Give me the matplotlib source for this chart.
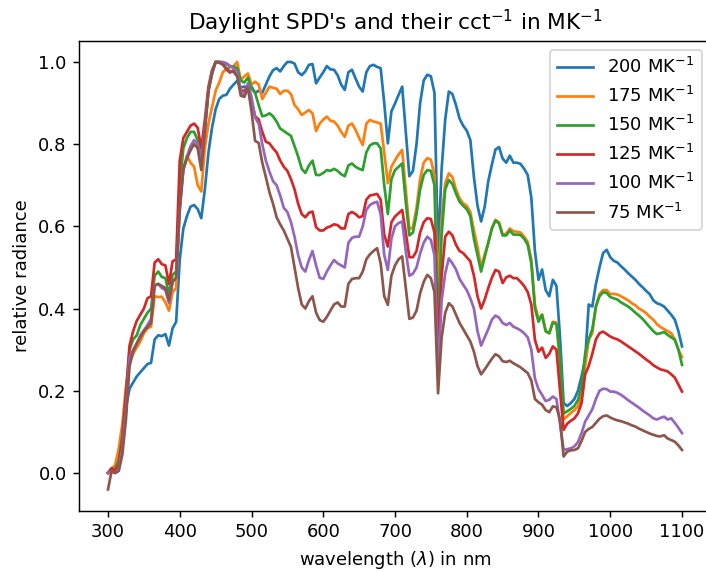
import matplotlib
matplotlib.use("Agg")
import matplotlib.pyplot as plt

# ------------------------------------------------------------
# Data (5 nm steps, 300..1100 nm)
# ------------------------------------------------------------
wavelengths = list(range(300, 1101, 5))

labels = ["200 MK$^{-1}$", "175 MK$^{-1}$", "150 MK$^{-1}$",
          "125 MK$^{-1}$", "100 MK$^{-1}$", "75 MK$^{-1}$"]

spd_200 = [
    0.00, 0.01, 0.005, 0.03, 0.09, 0.16, 0.205, 0.22, 0.235, 0.245,
    0.255, 0.265, 0.268, 0.325, 0.335, 0.333, 0.338, 0.31, 0.352, 0.368,
    0.52, 0.595, 0.625, 0.648, 0.652, 0.642, 0.62, 0.69, 0.78, 0.84,
    0.885, 0.91, 0.918, 0.92, 0.935, 0.945, 0.954, 0.938, 0.94, 0.94,
    0.94, 0.925, 0.93, 0.925, 0.945, 0.965, 0.98, 0.985, 0.977, 0.99,
    1.0, 1.0, 0.996, 0.975, 0.968, 0.977, 0.993, 0.995, 0.948, 0.962,
    0.975, 0.99, 0.982, 0.981, 0.968, 0.945, 0.932, 0.975, 0.981, 0.96,
    0.94, 0.928, 0.975, 0.99, 0.993, 0.988, 0.985, 0.90, 0.802, 0.88,
    0.899, 0.92, 0.94, 0.83, 0.722, 0.735, 0.80, 0.90, 0.955, 0.969,
    0.965, 0.925, 0.527, 0.74, 0.86, 0.928, 0.922, 0.895, 0.862, 0.845,
    0.833, 0.81, 0.72, 0.65, 0.612, 0.648, 0.71, 0.75, 0.787, 0.793,
    0.765, 0.755, 0.772, 0.755, 0.755, 0.752, 0.74, 0.725, 0.67, 0.54,
    0.47, 0.495, 0.445, 0.43, 0.47, 0.455, 0.33, 0.17, 0.163, 0.17,
    0.18, 0.2, 0.235, 0.275, 0.41, 0.405, 0.46, 0.50, 0.535, 0.543,
    0.525, 0.516, 0.512, 0.503, 0.495, 0.486, 0.478, 0.47, 0.46, 0.452,
    0.443, 0.435, 0.42, 0.413, 0.41, 0.405, 0.395, 0.385, 0.373, 0.345,
    0.308,
]

spd_175 = [
    0.0, 0.01, 0.02, 0.06, 0.12, 0.21, 0.27, 0.29, 0.305, 0.32,
    0.34, 0.352, 0.356, 0.43, 0.428, 0.429, 0.415, 0.395, 0.44, 0.45,
    0.66, 0.735, 0.772, 0.755, 0.745, 0.70, 0.685, 0.79, 0.85, 0.89,
    0.93, 0.95, 0.975, 0.983, 0.987, 0.99, 1.0, 0.956, 0.965, 0.972,
    0.945, 0.952, 0.945, 0.91, 0.925, 0.94, 0.937, 0.935, 0.922, 0.93,
    0.93, 0.922, 0.895, 0.885, 0.871, 0.877, 0.883, 0.875, 0.832, 0.85,
    0.86, 0.867, 0.857, 0.855, 0.845, 0.83, 0.818, 0.845, 0.85, 0.835,
    0.815, 0.798, 0.85, 0.859, 0.855, 0.853, 0.85, 0.78, 0.705, 0.745,
    0.761, 0.775, 0.786, 0.69, 0.593, 0.598, 0.645, 0.715, 0.755, 0.766,
    0.762, 0.725, 0.445, 0.62, 0.705, 0.729, 0.72, 0.69, 0.668, 0.656,
    0.65, 0.635, 0.59, 0.55, 0.50, 0.532, 0.56, 0.595, 0.616, 0.61,
    0.58, 0.582, 0.595, 0.588, 0.587, 0.585, 0.575, 0.562, 0.52, 0.41,
    0.375, 0.385, 0.345, 0.34, 0.368, 0.366, 0.27, 0.13, 0.138, 0.146,
    0.153, 0.162, 0.19, 0.26, 0.324, 0.34, 0.405, 0.435, 0.445, 0.445,
    0.435, 0.436, 0.434, 0.43, 0.425, 0.42, 0.413, 0.408, 0.40, 0.395,
    0.389, 0.38, 0.373, 0.362, 0.355, 0.35, 0.345, 0.34, 0.325, 0.30,
    0.282,
]

spd_150 = [
    0.0, 0.005, 0.01, 0.03, 0.09, 0.19, 0.30, 0.325, 0.335, 0.36,
    0.375, 0.39, 0.40, 0.48, 0.49, 0.477, 0.474, 0.435, 0.482, 0.49,
    0.70, 0.79, 0.815, 0.83, 0.83, 0.81, 0.76, 0.84, 0.93, 0.97,
    1.0, 1.0, 0.998, 0.995, 0.99, 0.989, 0.985, 0.955, 0.95, 0.962,
    0.935, 0.925, 0.895, 0.868, 0.87, 0.875, 0.868, 0.855, 0.838, 0.832,
    0.826, 0.82, 0.795, 0.77, 0.74, 0.73, 0.748, 0.76, 0.725, 0.725,
    0.73, 0.737, 0.735, 0.74, 0.735, 0.727, 0.722, 0.748, 0.753, 0.745,
    0.74, 0.737, 0.78, 0.797, 0.802, 0.802, 0.79, 0.70, 0.63, 0.715,
    0.737, 0.745, 0.753, 0.66, 0.578, 0.585, 0.63, 0.69, 0.725, 0.737,
    0.735, 0.70, 0.356, 0.58, 0.69, 0.713, 0.703, 0.68, 0.66, 0.65,
    0.642, 0.625, 0.57, 0.53, 0.49, 0.525, 0.56, 0.595, 0.614, 0.607,
    0.578, 0.578, 0.59, 0.58, 0.58, 0.579, 0.57, 0.555, 0.51, 0.40,
    0.368, 0.385, 0.345, 0.34, 0.366, 0.362, 0.28, 0.145, 0.15, 0.156,
    0.163, 0.178, 0.21, 0.29, 0.325, 0.35, 0.405, 0.43, 0.44, 0.438,
    0.428, 0.425, 0.422, 0.415, 0.41, 0.405, 0.398, 0.39, 0.383, 0.375,
    0.365, 0.355, 0.345, 0.338, 0.34, 0.343, 0.336, 0.33, 0.324, 0.30,
    0.263,
]

spd_125 = [
    0.0, 0.012, 0.005, 0.02, 0.08, 0.19, 0.31, 0.345, 0.37, 0.385,
    0.40, 0.425, 0.43, 0.512, 0.52, 0.508, 0.505, 0.46, 0.515, 0.52,
    0.76, 0.815, 0.83, 0.845, 0.85, 0.84, 0.79, 0.86, 0.94, 0.98,
    1.0, 0.998, 0.995, 0.982, 0.974, 0.98, 0.97, 0.93, 0.93, 0.942,
    0.905, 0.868, 0.86, 0.83, 0.806, 0.802, 0.79, 0.78, 0.76, 0.745,
    0.735, 0.715, 0.69, 0.655, 0.63, 0.622, 0.633, 0.636, 0.598, 0.59,
    0.59, 0.597, 0.60, 0.605, 0.603, 0.595, 0.595, 0.63, 0.635, 0.63,
    0.622, 0.625, 0.665, 0.675, 0.677, 0.679, 0.665, 0.58, 0.551, 0.61,
    0.624, 0.632, 0.64, 0.585, 0.525, 0.525, 0.54, 0.585, 0.61, 0.62,
    0.618, 0.585, 0.308, 0.48, 0.575, 0.587, 0.578, 0.555, 0.54, 0.535,
    0.525, 0.515, 0.48, 0.43, 0.40, 0.422, 0.45, 0.475, 0.494, 0.49,
    0.462, 0.476, 0.48, 0.474, 0.474, 0.465, 0.455, 0.44, 0.41, 0.324,
    0.295, 0.305, 0.28, 0.29, 0.308, 0.30, 0.20, 0.105, 0.12, 0.127,
    0.133, 0.145, 0.17, 0.24, 0.26, 0.29, 0.325, 0.34, 0.344, 0.338,
    0.332, 0.328, 0.325, 0.32, 0.314, 0.308, 0.302, 0.296, 0.29, 0.283,
    0.276, 0.27, 0.262, 0.257, 0.252, 0.25, 0.247, 0.24, 0.232, 0.215,
    0.198,
]

spd_100 = [
    0.0, 0.003, 0.0, 0.01, 0.06, 0.15, 0.28, 0.30, 0.315, 0.335,
    0.347, 0.36, 0.375, 0.457, 0.46, 0.45, 0.445, 0.413, 0.465, 0.475,
    0.64, 0.74, 0.77, 0.795, 0.81, 0.80, 0.76, 0.84, 0.93, 0.975,
    1.0, 1.0, 1.0, 0.997, 0.99, 0.985, 0.975, 0.93, 0.916, 0.948,
    0.915, 0.865, 0.85, 0.80, 0.76, 0.733, 0.71, 0.70, 0.675, 0.645,
    0.635, 0.61, 0.575, 0.53, 0.50, 0.49, 0.518, 0.54, 0.505, 0.475,
    0.472, 0.49, 0.505, 0.518, 0.51, 0.505, 0.50, 0.56, 0.572, 0.575,
    0.575, 0.60, 0.64, 0.652, 0.657, 0.66, 0.63, 0.53, 0.494, 0.57,
    0.60, 0.608, 0.612, 0.54, 0.48, 0.485, 0.50, 0.534, 0.56, 0.575,
    0.567, 0.53, 0.243, 0.42, 0.486, 0.522, 0.51, 0.495, 0.472, 0.458,
    0.445, 0.425, 0.40, 0.345, 0.31, 0.33, 0.35, 0.373, 0.383, 0.378,
    0.365, 0.36, 0.365, 0.356, 0.352, 0.347, 0.34, 0.33, 0.30, 0.23,
    0.204, 0.19, 0.175, 0.178, 0.186, 0.18, 0.12, 0.056, 0.058, 0.06,
    0.065, 0.075, 0.097, 0.125, 0.14, 0.155, 0.18, 0.2, 0.205, 0.204,
    0.198, 0.198, 0.195, 0.19, 0.184, 0.177, 0.171, 0.165, 0.159, 0.152,
    0.146, 0.14, 0.133, 0.13, 0.134, 0.137, 0.13, 0.133, 0.122, 0.11,
    0.097,
]

spd_75 = [
    -0.04, 0.005, 0.0, 0.005, 0.045, 0.13, 0.26, 0.295, 0.315, 0.33,
    0.345, 0.355, 0.365, 0.455, 0.46, 0.455, 0.45, 0.42, 0.465, 0.475,
    0.64, 0.74, 0.765, 0.785, 0.80, 0.79, 0.737, 0.83, 0.93, 0.975,
    1.0, 1.0, 0.993, 0.985, 0.977, 0.976, 0.965, 0.918, 0.915, 0.938,
    0.88, 0.808, 0.803, 0.755, 0.72, 0.683, 0.655, 0.622, 0.605, 0.59,
    0.57, 0.55, 0.50, 0.45, 0.41, 0.40, 0.418, 0.43, 0.39, 0.372,
    0.368, 0.38, 0.395, 0.41, 0.415, 0.405, 0.405, 0.46, 0.472, 0.474,
    0.474, 0.49, 0.52, 0.532, 0.54, 0.547, 0.51, 0.43, 0.409, 0.48,
    0.505, 0.52, 0.527, 0.45, 0.375, 0.378, 0.395, 0.437, 0.465, 0.482,
    0.474, 0.44, 0.194, 0.33, 0.39, 0.413, 0.405, 0.385, 0.365, 0.35,
    0.335, 0.32, 0.295, 0.26, 0.24, 0.252, 0.265, 0.278, 0.289, 0.284,
    0.272, 0.27, 0.273, 0.267, 0.262, 0.257, 0.25, 0.243, 0.225, 0.18,
    0.172, 0.166, 0.153, 0.148, 0.162, 0.16, 0.13, 0.04, 0.052, 0.055,
    0.056, 0.06, 0.078, 0.1, 0.107, 0.112, 0.122, 0.132, 0.138, 0.14,
    0.135, 0.131, 0.128, 0.126, 0.123, 0.12, 0.116, 0.113, 0.108, 0.104,
    0.1, 0.096, 0.093, 0.09, 0.089, 0.092, 0.084, 0.08, 0.076, 0.067,
    0.056,
]

series = [spd_200, spd_175, spd_150, spd_125, spd_100, spd_75]

# ------------------------------------------------------------
# Plot (reference looks rendered at ~130 dpi, cropped on the right)
# ------------------------------------------------------------
DPI = 130
fig = plt.figure(figsize=(706 / DPI, 572 / DPI), dpi=DPI)
ax = fig.add_axes([79.3 / 706, 61.2 / 572, 631.4 / 706, 470.2 / 572])

for values, label in zip(series, labels):
    ax.plot(wavelengths, values, label=label)

ax.set_title("Daylight SPD's and their cct$^{-1}$ in MK$^{-1}$")
ax.set_xlabel(r"wavelength ($\lambda$) in nm")
ax.set_ylabel("relative radiance")
ax.legend(loc="upper right")

fig.savefig("out.png", dpi=DPI)
